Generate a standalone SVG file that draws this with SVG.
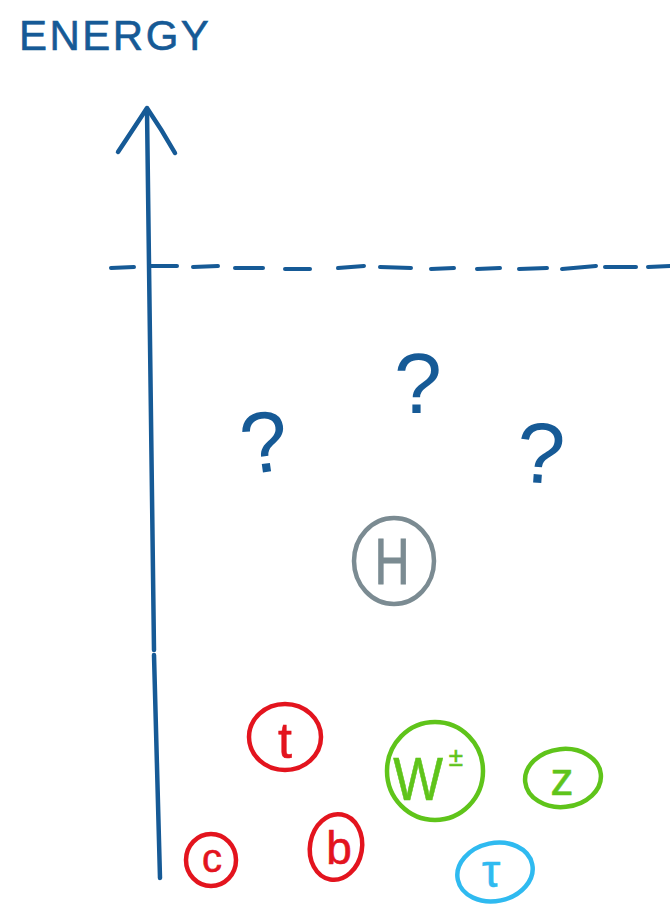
<svg xmlns="http://www.w3.org/2000/svg" width="670" height="908" viewBox="0 0 670 908">
<style>
.ink{fill:none;stroke:#165a96;stroke-width:4.5;stroke-linecap:round;stroke-linejoin:round}
.dash{fill:none;stroke:#165a96;stroke-width:4;stroke-linecap:round}
.lbl{font-family:"Liberation Sans",Arial,sans-serif;text-anchor:middle}
.q{font-family:"Liberation Sans",Arial,sans-serif;font-size:86px;fill:#165a96;text-anchor:middle}
.ring{fill:none;stroke-width:4.5;stroke-linecap:round}
</style>
<rect width="670" height="908" fill="#ffffff"/>
<text x="19" y="50" font-family="'Liberation Sans',Arial,sans-serif" font-size="42" letter-spacing="2.5" fill="#165a96" stroke="#165a96" stroke-width="0.6">ENERGY</text>
<g id="connectors">
  <path class="ink" d="M147,110 Q150,400 154,650"/>
  <path class="ink" d="M154,655 Q157,780 160,878"/>
  <path class="ink" d="M118,152 Q134,128 147,108 Q162,130 175,153"/>
  <g id="threshold">
    <path class="dash" d="M111,268 L134,267"/>
    <path class="dash" d="M151,266 L177,266"/>
    <path class="dash" d="M193,267 L218,266"/>
    <path class="dash" d="M235,268 L263,268"/>
    <path class="dash" d="M285,269 L310,269"/>
    <path class="dash" d="M338,268 L364,266"/>
    <path class="dash" d="M380,267 L411,268"/>
    <path class="dash" d="M431,269 L454,268"/>
    <path class="dash" d="M477,269 L500,268"/>
    <path class="dash" d="M519,269 L547,268"/>
    <path class="dash" d="M562,269 L596,266"/>
    <path class="dash" d="M605,267 L636,267"/>
    <path class="dash" d="M648,267 L670,266"/>
  </g>
</g>
<g id="unknown1"><text class="q" x="264" y="472" transform="rotate(-8 264 440)">?</text></g>
<g id="unknown2"><text class="q" x="418" y="413">?</text></g>
<g id="unknown3"><text class="q" x="541" y="483" transform="rotate(4 541 450)">?</text></g>
<g id="higgs">
  <ellipse class="ring" cx="394" cy="561" rx="40" ry="43" stroke="#7b8b92" stroke-width="6"/>
  <text class="lbl" x="0" y="0" font-size="64" fill="#7b8b92" stroke="#7b8b92" stroke-width="1" transform="translate(392 584) scale(0.75 1)">H</text>
</g>
<g id="top">
  <ellipse class="ring" cx="285" cy="737" rx="36" ry="33" stroke="#e3141e"/>
  <text class="lbl" x="285" y="758" font-size="50" fill="#e3141e" stroke="#e3141e" stroke-width="0.6">t</text>
</g>
<g id="charm">
  <ellipse class="ring" cx="211" cy="860" rx="25" ry="26" stroke="#e3141e"/>
  <text class="lbl" x="212" y="872" font-size="40" fill="#e3141e" stroke="#e3141e" stroke-width="0.6">c</text>
</g>
<g id="bottom">
  <ellipse class="ring" cx="336" cy="847" rx="26" ry="33" stroke="#e3141e" transform="rotate(10 336 847)"/>
  <text class="lbl" x="339" y="864" font-size="46" fill="#e3141e" stroke="#e3141e" stroke-width="0.6">b</text>
</g>
<g id="wboson">
  <ellipse class="ring" cx="435" cy="771" rx="48" ry="49" stroke="#5fc41a"/>
  <text class="lbl" x="0" y="0" font-size="62" fill="#5fc41a" stroke="#5fc41a" stroke-width="0.6" transform="translate(418 800) scale(0.85 1)">W</text>
  <text class="lbl" x="456" y="766" font-size="26" fill="#5fc41a" stroke="#5fc41a" stroke-width="0.6">±</text>
</g>
<g id="zboson">
  <ellipse class="ring" cx="563" cy="778" rx="38" ry="29" stroke="#5fc41a" transform="rotate(-6 563 778)"/>
  <text class="lbl" x="562" y="795" font-size="46" fill="#5fc41a" stroke="#5fc41a" stroke-width="0.6">z</text>
</g>
<g id="tau">
  <ellipse class="ring" cx="495" cy="872" rx="38" ry="29" stroke="#2fbaf0" transform="rotate(-12 495 872)"/>
  <text class="lbl" x="491" y="887" font-size="46" fill="#2fbaf0" stroke="#2fbaf0" stroke-width="0.6">τ</text>
</g>
</svg>
